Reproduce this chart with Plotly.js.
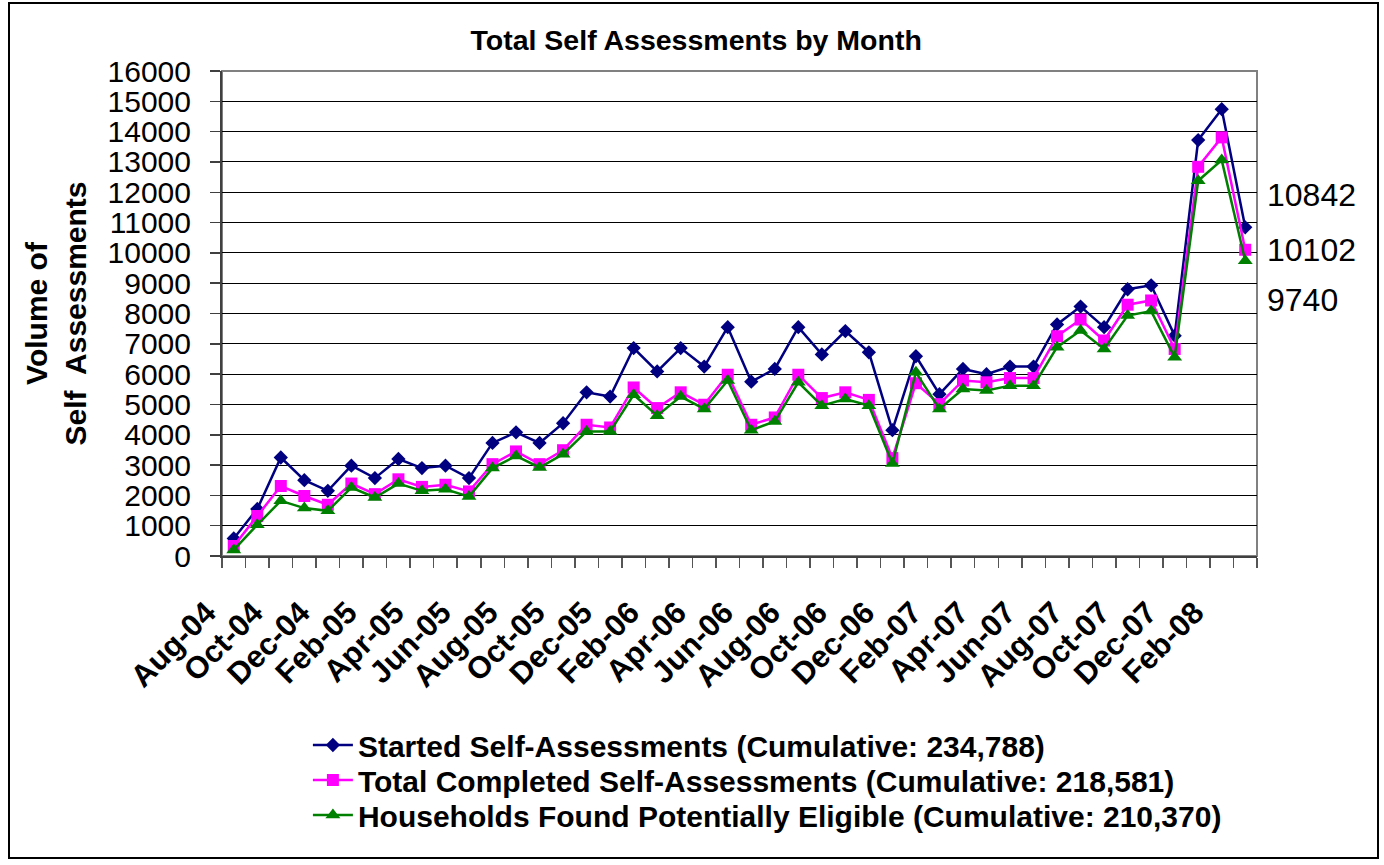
<!DOCTYPE html>
<html>
<head>
<meta charset="utf-8">
<script src="https://cdn.plot.ly/plotly-3.0.1.min.js"></script>
<style>
  html, body { margin: 0; padding: 0; background: #fff; }
  #wrap { position: relative; width: 1384px; height: 865px; }
  #chart { position: absolute; left: 0; top: 0; width: 1384px; height: 865px; }
  #frame { position: absolute; left: 8px; top: 2px; width: 1371px; height: 857px;
           border: 2px solid #000; pointer-events: none; box-sizing: border-box; }
</style>
</head>
<body>
<div id="wrap">
  <div id="chart"></div>
  <div id="frame"></div>
</div>
<script>
// ---- Data ----
const months = [
  "Aug-04","Sep-04","Oct-04","Nov-04","Dec-04","Jan-05","Feb-05","Mar-05","Apr-05","May-05",
  "Jun-05","Jul-05","Aug-05","Sep-05","Oct-05","Nov-05","Dec-05","Jan-06","Feb-06","Mar-06",
  "Apr-06","May-06","Jun-06","Jul-06","Aug-06","Sep-06","Oct-06","Nov-06","Dec-06","Jan-07",
  "Feb-07","Mar-07","Apr-07","May-07","Jun-07","Jul-07","Aug-07","Sep-07","Oct-07","Nov-07",
  "Dec-07","Jan-08","Feb-08","Mar-08"
];

const started = [
  580, 1550, 3250, 2500, 2150, 2980, 2570, 3200, 2900, 2980,
  2570, 3730, 4080, 3730, 4380, 5400, 5260, 6860, 6090, 6860,
  6250, 7550, 5750, 6170, 7550, 6650, 7420, 6720, 4150, 6590,
  5340, 6170, 6000, 6250, 6250, 7640, 8230, 7550, 8800, 8930,
  7270, 13720, 14740, 10842
];

const completed = [
  330, 1320, 2310, 1980, 1690, 2390, 2040, 2530, 2280, 2350,
  2130, 3030, 3450, 3030, 3490, 4330, 4240, 5560, 4880, 5400,
  4990, 5980, 4330, 4570, 5980, 5210, 5400, 5150, 3230, 5700,
  5010, 5790, 5730, 5870, 5870, 7250, 7800, 7110, 8290, 8430,
  6830, 12840, 13810, 10102
];

const eligible = [
  200, 1030, 1820, 1580, 1490, 2260, 1930, 2390, 2150, 2200,
  1960, 2900, 3300, 2920, 3360, 4110, 4110, 5320, 4630, 5260,
  4850, 5790, 4150, 4440, 5730, 4960, 5180, 4960, 3050, 6060,
  4850, 5510, 5460, 5620, 5620, 6890, 7440, 6830, 7930, 8080,
  6560, 12380, 13060, 9740
];

const seriesNames = [
  "Started Self-Assessments (Cumulative: 234,788)",
  "Total Completed Self-Assessments (Cumulative: 218,581)",
  "Households Found Potentially Eligible (Cumulative: 210,370)"
];

// x tick labels: every other month
const tickText = months.map((m, i) => (i % 2 === 0 ? m : ""));

const FONT = "Liberation Sans, Arial, Helvetica, sans-serif";

const traces = [
  {
    x: months, y: started, name: seriesNames[0], type: "scatter", mode: "lines+markers",
    line: { color: "#000080", width: 2.5 },
    marker: { symbol: "diamond", size: 11, color: "#000080" },
    legend: "legend"
  },
  {
    x: months, y: completed, name: seriesNames[1], type: "scatter", mode: "lines+markers",
    line: { color: "#FF00FF", width: 2.5 },
    marker: { symbol: "square", size: 12, color: "#FF00FF" },
    legend: "legend2"
  },
  {
    x: months, y: eligible, name: seriesNames[2], type: "scatter", mode: "lines+markers",
    line: { color: "#008000", width: 2.5 },
    marker: { symbol: "triangle-up", size: 13, color: "#008000" },
    legend: "legend3"
  }
];

const last = months.length - 1;

function legendAt(y) {
  return {
    orientation: "v",
    x: 0.083, xanchor: "left", xref: "paper",
    y: y, yanchor: "middle", yref: "paper",
    font: { family: FONT, size: 30, weight: "bold", color: "#000" },
    bgcolor: "rgba(0,0,0,0)", borderwidth: 0,
    itemwidth: 40, tracegroupgap: 0
  };
}

const layout = {
  width: 1384, height: 865,
  paper_bgcolor: "#ffffff", plot_bgcolor: "#ffffff",
  margin: { l: 222, r: 127, t: 71, b: 309 },
  font: { family: FONT, color: "#000" },
  showlegend: true,
  title: {
    text: "Total Self Assessments by Month",
    font: { family: FONT, size: 28.5, weight: "bold", color: "#000" },
    xref: "container", yref: "container",
    x: 0.503, xanchor: "center", y: 0.954, yanchor: "middle"
  },
  xaxis: {
    type: "category",
    categoryorder: "array", categoryarray: months,
    range: [-0.5, months.length - 0.5],
    tickmode: "array", tickvals: months, ticktext: tickText,
    tickangle: -45,
    tickson: "boundaries",
    ticks: "outside", ticklen: 10, tickwidth: 1.5, tickcolor: "#555",
    ticklabelstandoff: 24,
    ticklabelshift: -27,
    tickfont: { family: FONT, size: 31, weight: "bold", color: "#000" },
    showgrid: false, zeroline: false,
    showline: true, linecolor: "#404040", linewidth: 2,
    automargin: false
  },
  yaxis: {
    range: [0, 16000], tick0: 0, dtick: 1000, tickformat: "d",
    showgrid: true, gridcolor: "#000", gridwidth: 1,
    zeroline: false,
    showline: true, linecolor: "#404040", linewidth: 2,
    ticks: "outside", ticklen: 10, tickwidth: 1.5, tickcolor: "#404040",
    ticklabelstandoff: 13,
    tickfont: { family: FONT, size: 30, color: "#000" },
    title: {
      text: "Volume of<br>Self  Assessments",
      font: { family: FONT, size: 30, weight: "bold", color: "#000" },
      standoff: 12
    },
    automargin: false
  },
  legend: legendAt(-0.3897),
  legend2: legendAt(-0.4619),
  legend3: legendAt(-0.534),
  shapes: [
    { type: "rect", xref: "paper", yref: "paper", x0: 0, x1: 1, y0: 0, y1: 1,
      line: { color: "#808080", width: 2 }, fillcolor: "rgba(0,0,0,0)", layer: "below" }
  ],
  annotations: [
    { text: String(started[last]), xref: "paper", yref: "paper", x: 1.0077, y: 0.744,
      xanchor: "left", yanchor: "middle", showarrow: false,
      font: { family: FONT, size: 32, color: "#000" } },
    { text: String(completed[last]), xref: "paper", yref: "paper", x: 1.0077, y: 0.631,
      xanchor: "left", yanchor: "middle", showarrow: false,
      font: { family: FONT, size: 32, color: "#000" } },
    { text: String(eligible[last]), xref: "paper", yref: "paper", x: 1.0077, y: 0.528,
      xanchor: "left", yanchor: "middle", showarrow: false,
      font: { family: FONT, size: 32, color: "#000" } }
  ]
};

Plotly.newPlot("chart", traces, layout, { displayModeBar: false, staticPlot: true });
</script>
</body>
</html>
